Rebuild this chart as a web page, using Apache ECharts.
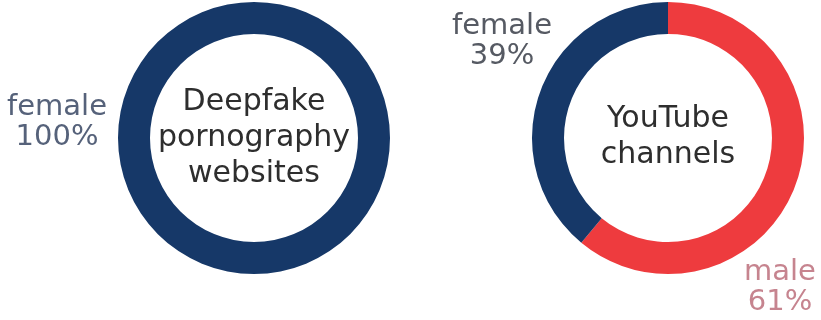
<!DOCTYPE html>
<html>
<head>
<meta charset="utf-8">
<script src="https://cdn.jsdelivr.net/npm/echarts@6/dist/echarts.min.js"></script>
<style>html,body{margin:0;padding:0;background:#fff}#c{width:821px;height:320px}</style>
</head>
<body>
<div id="c"></div>
<script>
const leftTitle = 'Deepfake\npornography\nwebsites';
const leftCategories = ['female'];
const leftValues = [100];
const rightTitle = 'YouTube\nchannels';
const rightCategories = ['male', 'female'];
const rightValues = [61, 39];

const NAVY = '#163868';
const RED = '#ee3b3e';
const FONT = 'DejaVu Sans';

const leftLabelPos = { female: [57, 122, '#56627a'] };
const rightLabelPos = { female: [502, 41, '#565a63'], male: [780, 287, '#c6848f'] };

function mkData(cats, vals, colors) {
  return cats.map((c, i) => ({ name: c, value: vals[i], itemStyle: { color: colors[c] } }));
}
function layoutFor(pos) {
  return function (params) {
    const p = pos[params.text.split('\n')[0]];
    return { x: p[0], y: p[1], align: 'center', verticalAlign: 'middle', hideOverlap: false };
  };
}

const chart = echarts.init(document.getElementById('c'), null, { renderer: 'canvas' });
function seriesFor(center, cats, vals, colors, pos) {
  const data = mkData(cats, vals, colors).map(d => {
    d.label = { color: pos[d.name][2] };
    return d;
  });
  return {
    type: 'pie',
    center: center,
    radius: [104, 136],
    startAngle: 90,
    clockwise: true,
    silent: true,
    animation: false,
    avoidLabelOverlap: false,
    data: data,
    label: {
      show: true,
      position: 'inside',
      overflow: 'none',
      formatter: function (p) { return p.name + '\n' + Math.round(p.percent) + '%'; },
      fontFamily: FONT, fontSize: 29, lineHeight: 30
    },
    labelLine: { show: false },
    labelLayout: layoutFor(pos)
  };
}

chart.setOption({
  backgroundColor: '#fff',
  series: [
    seriesFor([254, 138], leftCategories, leftValues, { female: NAVY }, leftLabelPos),
    seriesFor([668, 138], rightCategories, rightValues, { female: NAVY, male: RED }, rightLabelPos)
  ],
  graphic: [
    { type: 'text', x: 254, y: 138, style: { text: leftTitle, fontFamily: FONT, fontSize: 30, lineHeight: 36, fill: '#2e2e2e', align: 'center', verticalAlign: 'middle' } },
    { type: 'text', x: 668, y: 137, style: { text: rightTitle, fontFamily: FONT, fontSize: 30, lineHeight: 36, fill: '#2e2e2e', align: 'center', verticalAlign: 'middle' } }
  ]
});
</script>
</body>
</html>
